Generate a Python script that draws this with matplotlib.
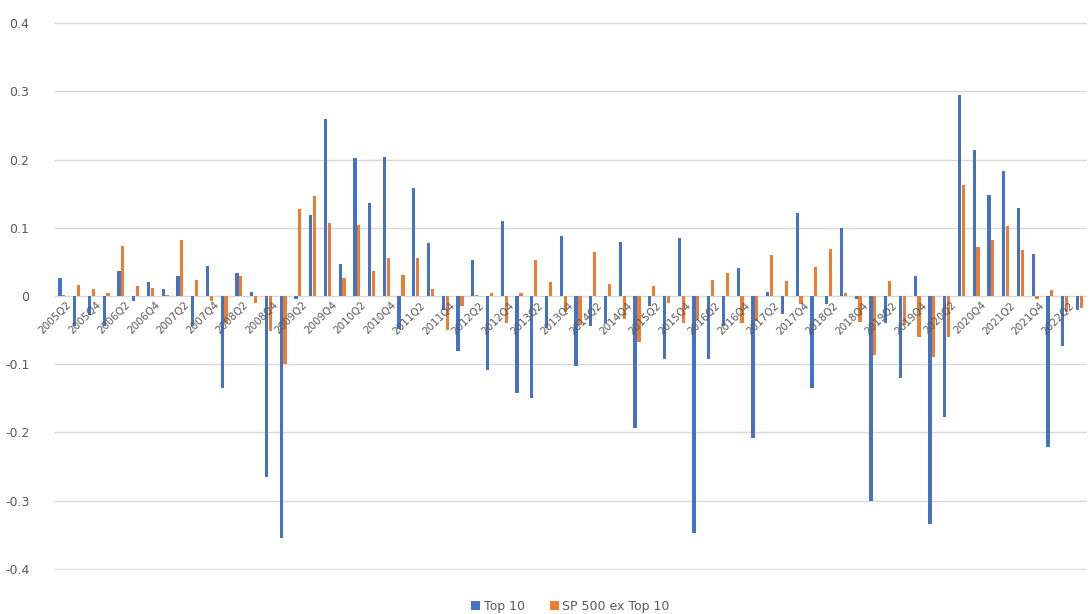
import numpy as np
import matplotlib as mpl
mpl.use('Agg')
import matplotlib.pyplot as plt

# quarters 2005Q2 .. 2022Q3
quarters = []
for y in range(2005, 2023):
	for q in range(1, 5):
		quarters.append('%dQ%d' % (y, q))
quarters = quarters[quarters.index('2005Q2'):quarters.index('2022Q3') + 1]

top10 = [0.027, -0.044, -0.028, -0.044, 0.037, -0.007, 0.021, 0.010, 0.029, -0.044,
	0.044, -0.135, 0.033, 0.006, -0.265, -0.355, -0.005, 0.118, 0.260, 0.047,
	0.202, 0.137, 0.203, -0.049, 0.159, 0.077, -0.020, -0.080, 0.052, -0.108,
	0.110, -0.143, -0.149, -0.047, 0.088, -0.103, -0.044, -0.039, 0.079, -0.193,
	-0.015, -0.092, 0.085, -0.347, -0.092, -0.044, 0.041, -0.209, 0.006, -0.026,
	0.122, -0.135, -0.012, 0.099, -0.005, -0.300, -0.039, -0.121, 0.029, -0.334,
	-0.177, 0.294, 0.214, 0.148, 0.183, 0.129, 0.061, -0.222, -0.073, -0.020]

sp500_ex = [0.002, 0.016, 0.010, 0.005, 0.073, 0.015, 0.012, 0.002, 0.082, 0.024,
	-0.007, -0.039, 0.029, -0.011, -0.052, -0.100, 0.127, 0.146, 0.107, 0.026,
	0.104, 0.037, 0.055, 0.031, 0.055, 0.010, -0.050, -0.015, 0.001, 0.005,
	-0.039, 0.005, 0.052, 0.020, -0.023, -0.042, 0.065, 0.017, -0.034, -0.068,
	0.015, -0.010, -0.040, -0.034, 0.024, 0.033, -0.039, -0.036, 0.060, 0.022,
	-0.012, 0.043, 0.069, 0.004, -0.038, -0.087, 0.022, -0.042, -0.060, -0.089,
	-0.060, 0.162, 0.072, 0.082, 0.102, 0.068, -0.004, 0.009, -0.023, -0.018]

x = np.arange(len(quarters))

fig = plt.figure(figsize=(10.9, 6.14), dpi=100)
ax = fig.add_axes([0.050, 0.072, 0.947, 0.892])

ax.bar(x - 0.13, top10, width=0.22, color='#4472C4', label='Top 10', zorder=3)
ax.bar(x + 0.13, sp500_ex, width=0.22, color='#ED7D31', label='SP 500 ex Top 10', zorder=3)

ax.set_ylim(-0.4015, 0.4015)
ax.set_xlim(-0.5, len(quarters) - 0.5)
ax.set_yticks(np.arange(-0.4, 0.41, 0.1))
ax.set_yticklabels(['-0.4', '-0.3', '-0.2', '-0.1', '0', '0.1', '0.2', '0.3', '0.4'])
ax.yaxis.grid(True, color='#d9d9d9', linewidth=1, zorder=0)
ax.tick_params(axis='y', length=0, labelsize=9, labelcolor='#595959', pad=18)
for s in ax.spines.values():
	s.set_visible(False)

# category labels sit at the zero line, every other quarter
ax.set_xticks([])
for i in range(0, len(quarters), 2):
	ax.text(i + 0.3, -0.006, quarters[i], rotation=45, ha='right', va='top',
		rotation_mode='anchor', fontsize=7.5, color='#595959', zorder=4)

ax.legend(loc='upper center', bbox_to_anchor=(0.5, -0.035), ncol=2, frameon=False,
	fontsize=9, handlelength=0.7, handleheight=0.7, columnspacing=2.0,
	handletextpad=0.3, labelcolor='#595959')

fig.savefig('out.png', dpi=100)
